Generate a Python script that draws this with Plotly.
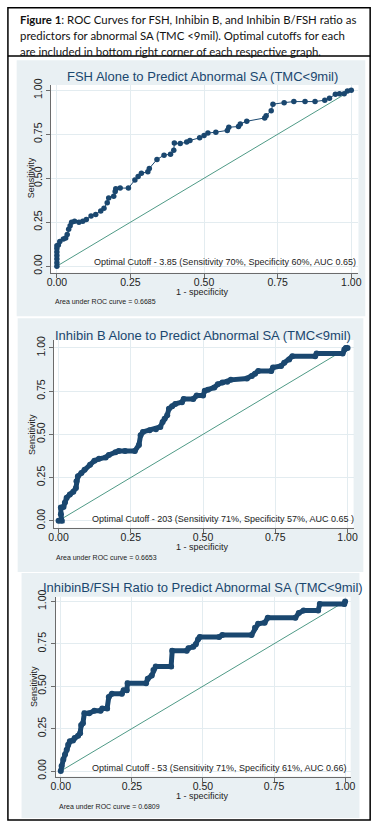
import plotly.graph_objects as go

# ---------------- data ----------------
fsh_fpr = [0, 0, 0, 0, 0, 0, 0, 0.005, 0.01, 0.022, 0.03, 0.035, 0.04, 0.045, 0.05, 0.06, 0.075, 0.088,
           0.1, 0.116, 0.132, 0.149, 0.16, 0.171, 0.176, 0.193, 0.198, 0.2, 0.215, 0.243, 0.265, 0.276,
           0.287, 0.309, 0.314, 0.34, 0.364, 0.386, 0.397, 0.399, 0.419, 0.441, 0.452, 0.485, 0.5,
           0.513, 0.54, 0.579, 0.584, 0.617, 0.623, 0.645, 0.706, 0.711, 0.728, 0.734, 0.772, 0.805,
           0.843, 0.877, 0.91, 0.926, 0.946, 0.96, 0.976, 0.987, 1.0]
fsh_tpr = [0, 0.02, 0.04, 0.06, 0.08, 0.1, 0.116, 0.12, 0.14, 0.154, 0.16, 0.18, 0.21, 0.23, 0.25, 0.255,
           0.25, 0.255, 0.266, 0.285, 0.294, 0.313, 0.33, 0.36, 0.388, 0.397, 0.425, 0.44, 0.444, 0.444,
           0.49, 0.51, 0.528, 0.537, 0.556, 0.607, 0.631, 0.637, 0.659, 0.7, 0.697, 0.706, 0.715, 0.73,
           0.743, 0.757, 0.762, 0.772, 0.79, 0.794, 0.809, 0.824, 0.843, 0.856, 0.884, 0.921, 0.93,
           0.936, 0.936, 0.936, 0.944, 0.955, 0.978, 0.981, 0.981, 0.996, 1.0]

inh_fpr = [0, 0.011, 0.008, 0.008, 0.017, 0.022, 0.028, 0.039, 0.051, 0.06, 0.062, 0.067, 0.079, 0.09,
           0.109, 0.124, 0.14, 0.163, 0.174, 0.197, 0.208, 0.23, 0.264, 0.278, 0.284, 0.292, 0.315,
           0.337, 0.352, 0.36, 0.367, 0.376, 0.382, 0.393, 0.404, 0.427, 0.433, 0.466, 0.478, 0.5,
           0.506, 0.517, 0.539, 0.551, 0.567, 0.584, 0.596, 0.652, 0.669, 0.68, 0.691, 0.736, 0.742,
           0.77, 0.781, 0.798, 0.809, 0.888, 0.893, 0.983, 0.989, 0.994, 1.0]
inh_tpr = [0, 0, 0.038, 0.076, 0.08, 0.105, 0.133, 0.152, 0.168, 0.19, 0.229, 0.257, 0.276, 0.295,
           0.324, 0.347, 0.358, 0.366, 0.381, 0.396, 0.404, 0.404, 0.404, 0.438, 0.495, 0.514, 0.524,
           0.53, 0.543, 0.571, 0.59, 0.61, 0.648, 0.663, 0.676, 0.686, 0.705, 0.705, 0.724, 0.724,
           0.752, 0.758, 0.771, 0.79, 0.8, 0.804, 0.815, 0.823, 0.838, 0.851, 0.867, 0.867, 0.886,
           0.895, 0.914, 0.933, 0.952, 0.952, 0.968, 0.968, 0.99, 1.0, 1.0]

rat_fpr = [0, 0.003, 0.009, 0.015, 0.021, 0.026, 0.032, 0.043, 0.049, 0.061, 0.068, 0.072, 0.078,
           0.083, 0.1, 0.118, 0.14, 0.146, 0.163, 0.169, 0.18, 0.215, 0.221, 0.232, 0.235, 0.3, 0.306,
           0.32, 0.326, 0.334, 0.388, 0.392, 0.443, 0.449, 0.466, 0.475, 0.483, 0.489, 0.557, 0.568,
           0.671, 0.683, 0.694, 0.717, 0.728, 0.825, 0.837, 0.854, 0.905, 0.911, 0.997, 1.0]
rat_tpr = [0, 0.029, 0.068, 0.097, 0.126, 0.155, 0.175, 0.18, 0.194, 0.208, 0.223, 0.272, 0.282,
           0.34, 0.34, 0.355, 0.355, 0.369, 0.369, 0.437, 0.456, 0.456, 0.476, 0.476, 0.518, 0.518,
           0.544, 0.563, 0.596, 0.616, 0.616, 0.709, 0.709, 0.724, 0.732, 0.748, 0.777, 0.79, 0.79,
           0.802, 0.802, 0.845, 0.868, 0.874, 0.903, 0.903, 0.932, 0.946, 0.946, 0.984, 0.984, 1.0]

titles = ["FSH Alone to Predict Abnormal SA (TMC<9mil)",
          "Inhibin B Alone to Predict Abnormal SA (TMC<9mil)",
          "InhibinB/FSH Ratio to Predict Abnormal SA (TMC<9mil)"]
cutoff_texts = ["Optimal Cutoff - 3.85 (Sensitivity 70%, Specificity 60%, AUC 0.65)",
                "Optimal Cutoff - 203 (Sensitivity 71%, Specificity 57%, AUC 0.65 )",
                "Optimal Cutoff - 53 (Sensitivity 71%, Specificity 61%, AUC 0.66)"]
area_texts = ["Area under ROC curve = 0.6685",
              "Area under ROC curve = 0.6653",
              "Area under ROC curve = 0.6809"]
tick_vals = [0, 0.25, 0.5, 0.75, 1.0]
tick_text = ["0.00", "0.25", "0.50", "0.75", "1.00"]
caption_lines = ["<b>Figure 1</b>: ROC Curves for FSH, Inhibin B, and Inhibin B/FSH ratio as",
                 "predictors for abnormal SA (TMC <9mil). Optimal cutoffs for each",
                 "are included in bottom right corner of each respective graph."]

# ---------------- layout helpers ----------------
W, H = 381, 830
def px(x): return x / W
def py(y): return 1 - y / H

NAVY = "#1a476f"
BG = "#e9f0f3"
GRID = "#e3ecf0"
REF = "#4f9a86"
FONT = "Liberation Sans"

panels = [
    dict(box=(47, 363, 79, 269), xr=[-0.0208, 1.0245], yr=[-0.0376, 1.03], bg=(12, 370, 54, 313),
         ty=70, cut=(89, 258), area=(49, 298), sx=27, sy=173, spy=288, lw=1, ms=5.5),
    dict(box=(50, 358, 337, 527), xr=[-0.0169, 1.021], yr=[-0.04, 1.046], bg=(13, 368, 315, 572),
         ty=332, cut=(87, 518), area=(50, 557), sx=28, sy=433, spy=547, lw=5, ms=6),
    dict(box=(52, 355, 597, 779), xr=[-0.018, 1.0195], yr=[-0.033, 1.027], bg=(17, 364, 573, 821),
         ty=588, cut=(87, 770), area=(53, 809), sx=29, sy=688, spy=799, lw=5, ms=6),
]
series = [(fsh_fpr, fsh_tpr), (inh_fpr, inh_tpr), (rat_fpr, rat_tpr)]

fig = go.Figure()
shapes = []
annotations = []
layout_axes = {}

for i, (p, (fx, fy)) in enumerate(zip(panels, series)):
    n = "" if i == 0 else str(i + 1)
    xa, ya = "x" + n, "y" + n
    l, r, t, b = p["box"]
    layout_axes["xaxis" + n] = dict(
        domain=[px(l), px(r)], range=p["xr"], anchor=ya, tickvals=tick_vals, ticktext=tick_text,
        showline=True, linecolor="#6b6b6b", linewidth=1, ticks="outside", ticklen=4, tickcolor="#6b6b6b",
        showgrid=True, gridcolor=GRID, gridwidth=1, zeroline=False, ticklabelstandoff=-4,
        tickfont=dict(family=FONT, size=10.5, color="#222"), fixedrange=True)
    layout_axes["yaxis" + n] = dict(
        domain=[py(b), py(t)], range=p["yr"], anchor=xa, tickvals=tick_vals, ticktext=tick_text,
        showline=True, linecolor="#6b6b6b", linewidth=1, ticks="outside", ticklen=4, tickcolor="#6b6b6b",
        showgrid=True, gridcolor=GRID, gridwidth=1, zeroline=False, tickangle=-90,
        tickfont=dict(family=FONT, size=10.5, color="#222"), fixedrange=True)

    bl, br, bt, bb = p["bg"]
    shapes.append(dict(type="rect", xref="paper", yref="paper", x0=px(bl), x1=px(br), y0=py(bb), y1=py(bt),
                       fillcolor=BG, line=dict(width=0), layer="below"))
    shapes.append(dict(type="rect", xref="paper", yref="paper", x0=px(l), x1=px(r), y0=py(b), y1=py(t),
                       fillcolor="white", line=dict(width=0), layer="below"))

    fig.add_trace(go.Scatter(x=[0, 1], y=[0, 1], mode="lines", line=dict(color=REF, width=1),
                             xaxis=xa, yaxis=ya, showlegend=False, hoverinfo="skip"))
    fig.add_trace(go.Scatter(x=fx, y=fy, mode="lines+markers",
                             line=dict(color=NAVY, width=p["lw"]),
                             marker=dict(color=NAVY, size=p["ms"], line=dict(width=0)),
                             xaxis=xa, yaxis=ya, showlegend=False))

    annotations += [
        dict(text=titles[i], x=px(203), y=py(p["ty"]), xref="paper", yref="paper", showarrow=False,
             xanchor="center", yanchor="middle", font=dict(family=FONT, size=13, color=NAVY)),
        dict(text=cutoff_texts[i], x=px(p["cut"][0]), y=py(p["cut"][1]), xref="paper", yref="paper",
             showarrow=False, xanchor="left", yanchor="middle", font=dict(family=FONT, size=9, color="#222")),
        dict(text=area_texts[i], x=px(p["area"][0]), y=py(p["area"][1]), xref="paper", yref="paper",
             showarrow=False, xanchor="left", yanchor="middle", font=dict(family=FONT, size=7, color="#222")),
        dict(text="Sensitivity", x=px(p["sx"]), y=py(p["sy"]), xref="paper", yref="paper", showarrow=False,
             textangle=-90, xanchor="center", yanchor="middle", font=dict(family=FONT, size=9, color="#222")),
        dict(text="1 - specificity", x=px(203), y=py(p["spy"]), xref="paper", yref="paper", showarrow=False,
             xanchor="center", yanchor="middle", font=dict(family=FONT, size=9, color="#222")),
    ]

for k, (line, yy) in enumerate(zip(caption_lines, [13, 29, 45])):
    annotations.append(dict(text=line, x=px(13), y=py(yy), xref="paper", yref="paper", showarrow=False,
                            xanchor="left", yanchor="middle",
                            font=dict(family="Lato", size=11.4, color="#111")))

shapes.append(dict(type="rect", xref="paper", yref="paper", x0=px(3), x1=px(375), y0=py(823), y1=py(0.8),
                   line=dict(color="black", width=1.5), fillcolor="rgba(0,0,0,0)", layer="above"))
shapes.append(dict(type="line", xref="paper", yref="paper", x0=px(3), x1=px(375), y0=py(49.5), y1=py(49.5),
                   line=dict(color="black", width=1.5), layer="above"))

fig.update_layout(width=W, height=H, margin=dict(l=0, r=0, t=0, b=0), paper_bgcolor="white",
                  plot_bgcolor="rgba(0,0,0,0)", shapes=shapes, annotations=annotations, **layout_axes)

fig.write_html("out.html", config={"displayModeBar": False},
               post_script="document.body.style.margin='0';document.body.style.overflow='hidden';")
